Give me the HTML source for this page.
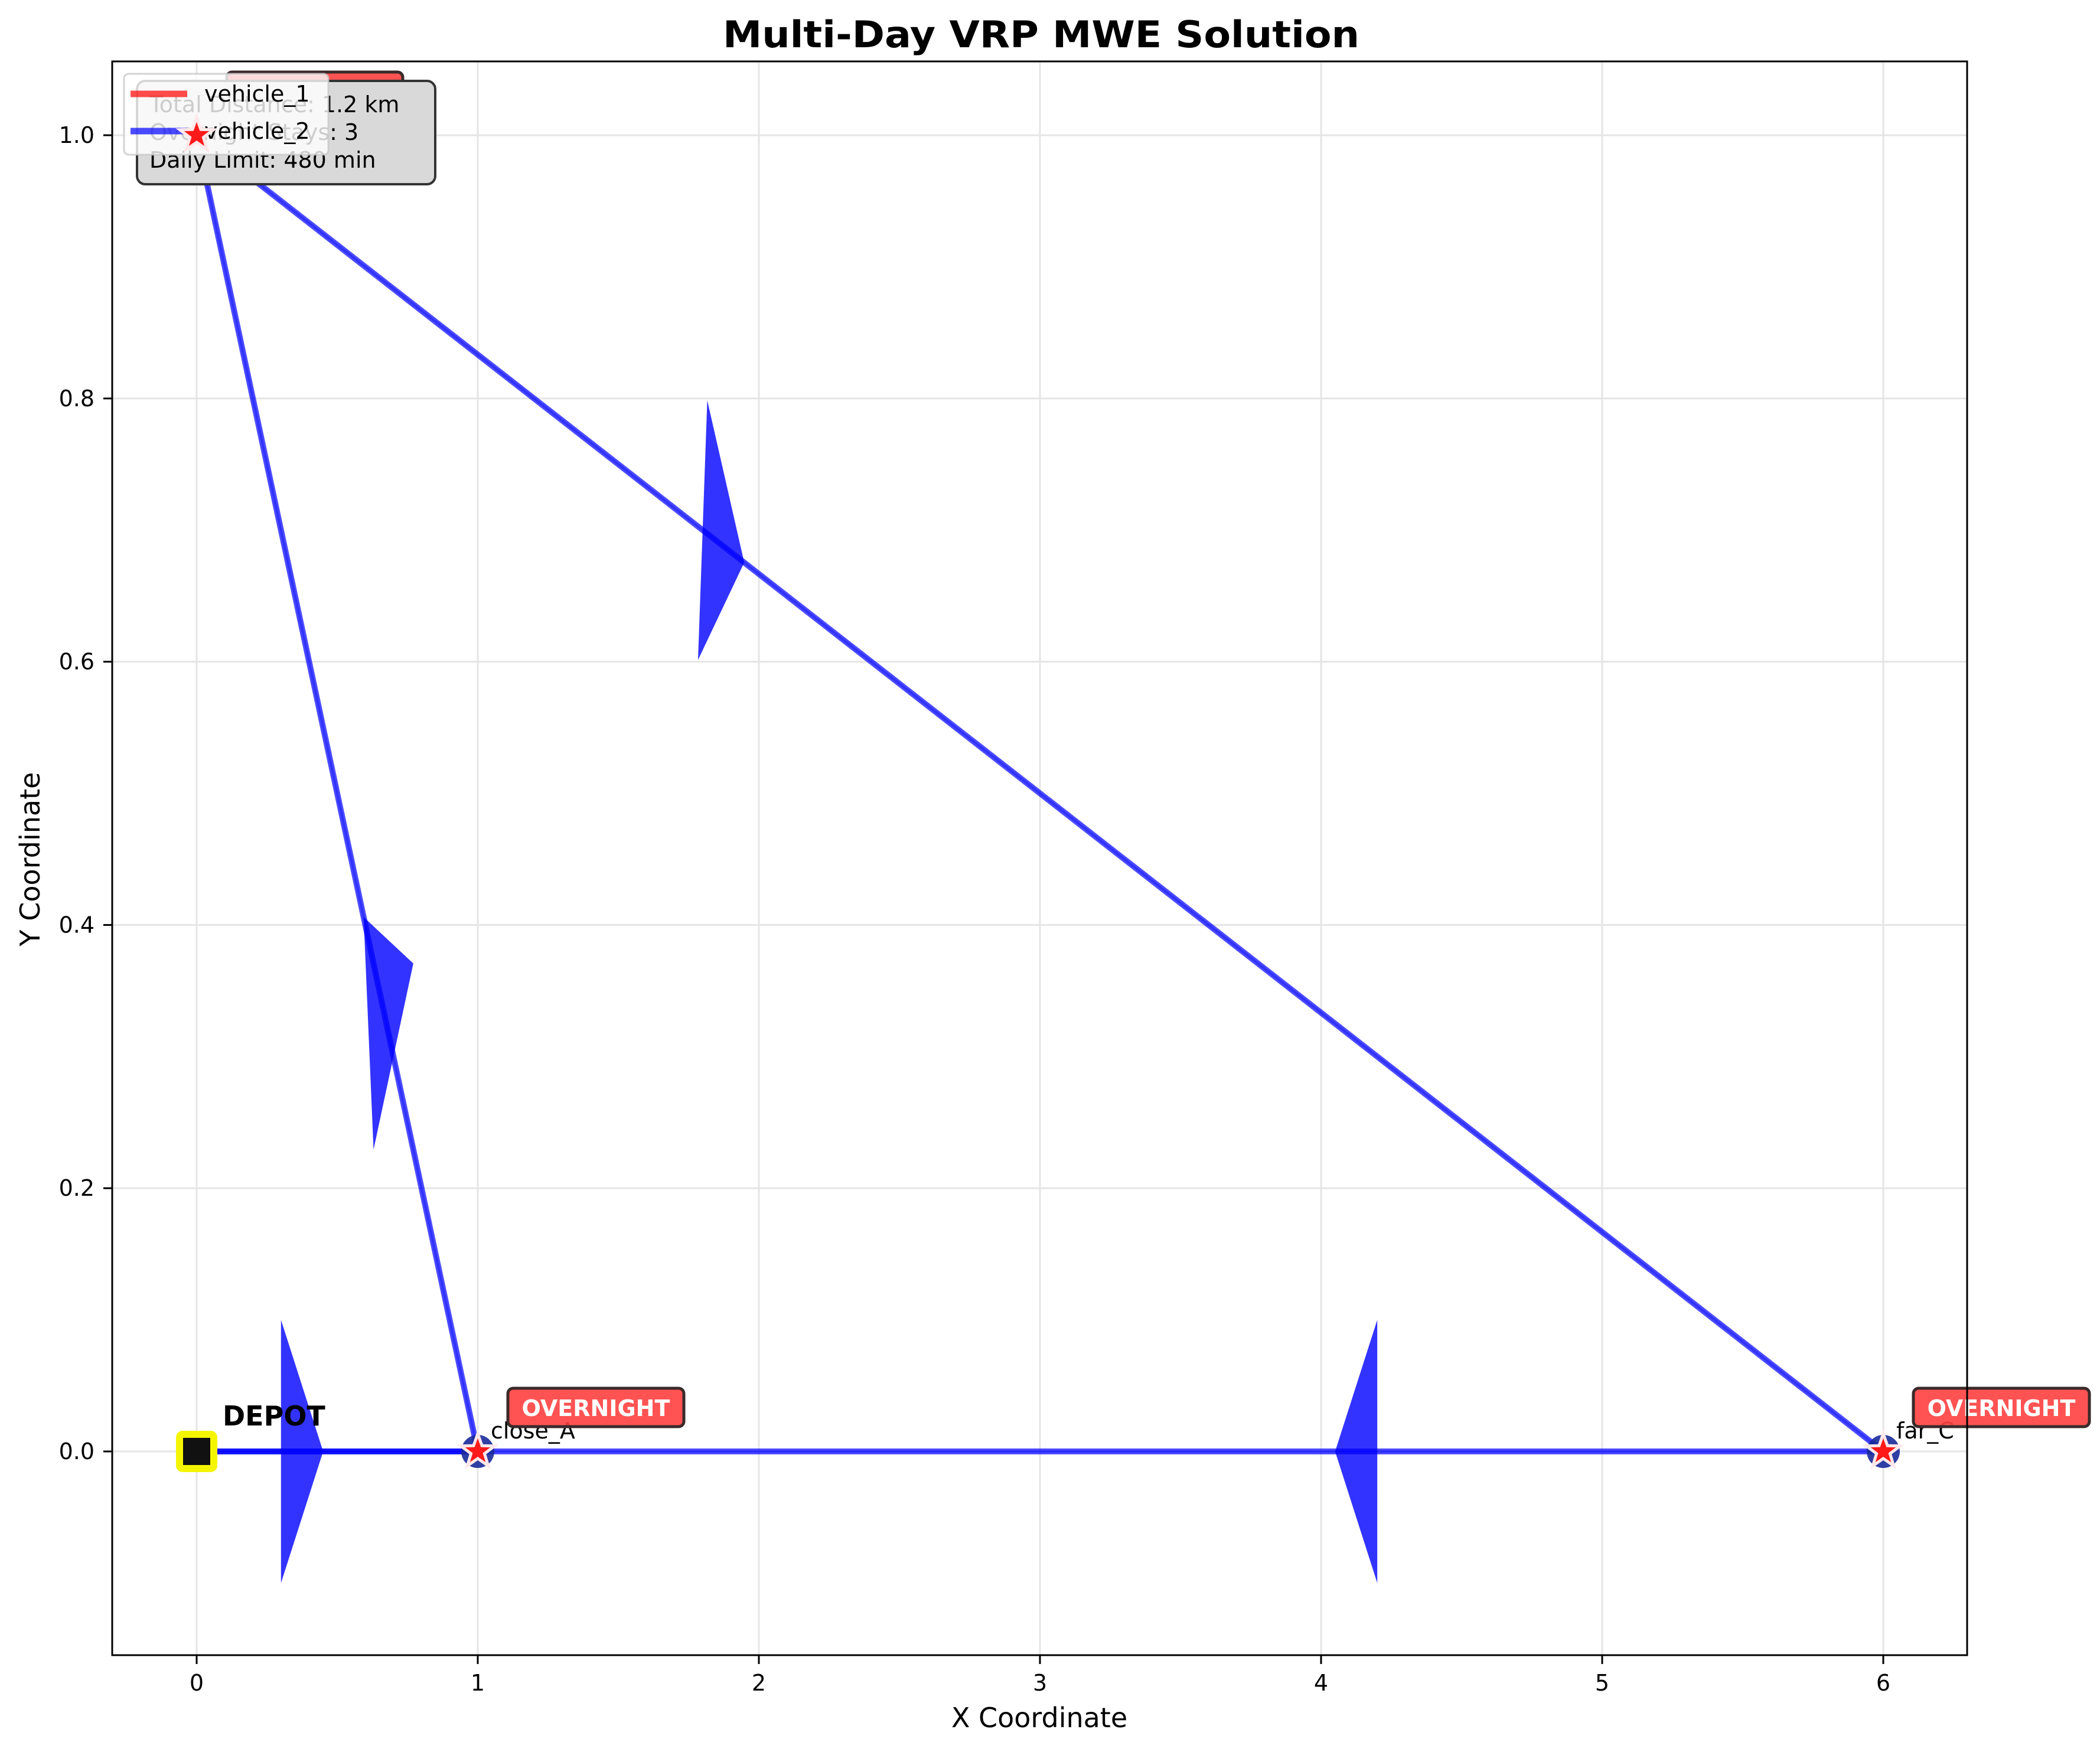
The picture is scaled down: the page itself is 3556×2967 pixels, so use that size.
<!DOCTYPE html>
<html><head><meta charset="utf-8">
<style>
html,body{margin:0;padding:0;background:#fff;}
svg{display:block;font-family:"DejaVu Sans","Liberation Sans",sans-serif;}
</style></head>
<body>
<svg id="chart" width="3556" height="2967" viewBox="0 0 3556 2967" xmlns="http://www.w3.org/2000/svg">
<rect x="0" y="0" width="3556" height="2967" fill="#fff"/>
<text x="1763" y="80" text-anchor="middle" font-size="62" font-weight="bold" textLength="1078" lengthAdjust="spacingAndGlyphs">Multi-Day VRP MWE Solution</text>
<g id="grid"></g>
<g id="routes"></g>
<g id="arrows"></g>
<g id="nodes"></g>
<rect x="190" y="104" width="3141" height="2699" fill="none" stroke="#000" stroke-width="3"/>
<g id="ticks"></g>
<text x="1760" y="2925" text-anchor="middle" font-size="46">X Coordinate</text>
<text x="0" y="0" transform="translate(67,1455) rotate(-90)" text-anchor="middle" font-size="46">Y Coordinate</text>
<g>
<rect x="232" y="137" width="505" height="175" rx="14" fill="#d9d9d9" stroke="#333" stroke-width="4"/>
<text x="253" y="190" font-size="38">Total Distance: 1.2 km</text>
<text x="253" y="237" font-size="38">Overnight Stays: 3</text>
<text x="253" y="284" font-size="38">Daily Limit: 480 min</text>
</g>
<g>
<rect x="210" y="125" width="346" height="137" rx="8" fill="rgba(255,255,255,0.8)" stroke="rgba(200,200,200,0.8)" stroke-width="3"/>
<line x1="221" y1="159" x2="317" y2="159" stroke="red" stroke-opacity="0.7" stroke-width="11"/>
<text x="346" y="172" font-size="38">vehicle_1</text>
<line x1="221" y1="222" x2="317" y2="222" stroke="blue" stroke-opacity="0.7" stroke-width="11"/>
<text x="346" y="235" font-size="38">vehicle_2</text>
</g>
<g id="topmarks"></g>
</svg>
<script>
const xTicks = [0,1,2,3,4,5,6];
const yTicks = [0.0,0.2,0.4,0.6,0.8,1.0];
const yTickLabels = ["0.0","0.2","0.4","0.6","0.8","1.0"];
const nodeNames = ["depot","close_A","close_B","far_C"];
const nodeX = [0,1,0,6];
const nodeY = [0,0,1,0];
const routeOrder = [0,1,2,3,0];

const NS="http://www.w3.org/2000/svg";
const X0=333, XU=476, Y0=2458, YU=2229;
function sx(v){return X0+v*XU;}
function sy(v){return Y0-v*YU;}
function mk(tag,attrs,parent){const e=document.createElementNS(NS,tag);for(const k in attrs)e.setAttribute(k,attrs[k]);parent.appendChild(e);return e;}

const grid=document.getElementById('grid'), ticks=document.getElementById('ticks');
xTicks.forEach((t,i)=>{
  const g=mk('line',{x1:sx(t),x2:sx(t),y1:104,y2:2803,stroke:'#e5e5e5','stroke-width':3},grid);
  
  
  const tk=mk('line',{x1:sx(t),x2:sx(t),y1:2803,y2:2818,stroke:'#000','stroke-width':3},ticks);
  
  
  const tl=mk('text',{x:sx(t),y:2863,'text-anchor':'middle','font-size':38},ticks);
  tl.textContent=String(t);
  
  
});
yTicks.forEach((t,i)=>{
  const g=mk('line',{x1:190,x2:3331,y1:sy(t),y2:sy(t),stroke:'#e5e5e5','stroke-width':3},grid);
  
  
  const tk=mk('line',{x1:175,x2:190,y1:sy(t),y2:sy(t),stroke:'#000','stroke-width':3},ticks);
  
  
  const tl=mk('text',{x:160,y:sy(t)+13,'text-anchor':'end','font-size':38},ticks);
  tl.textContent=yTickLabels[i];
  
  
});

const routes=document.getElementById('routes'), arrows=document.getElementById('arrows');
for(let i=0;i<routeOrder.length-1;i++){
  const a=routeOrder[i], b=routeOrder[i+1];
  const x1=nodeX[a],y1=nodeY[a],x2=nodeX[b],y2=nodeY[b];
  const l=mk('line',{x1:sx(x1),y1:sy(y1),x2:sx(x2),y2:sy(y2),stroke:'blue','stroke-opacity':0.7,'stroke-width':10,'stroke-linecap':'round'},routes);
  
  
  const l2=mk('line',{x1:sx(x1),y1:sy(y1),x2:sx(x2),y2:sy(y2),stroke:'blue','stroke-opacity':0.35,'stroke-width':4},routes);
  
  
  const dx=x2-x1, dy=y2-y1, len=Math.hypot(dx,dy), ux=dx/len, uy=dy/len;
  const bx=x1+0.3*dx, by=y1+0.3*dy, tx=bx+0.15*ux, ty=by+0.15*uy;
  const px=-uy*0.1, py=ux*0.1;
  const pts=[[tx,ty],[bx+px,by+py],[bx-px,by-py]].map(p=>sx(p[0])+','+sy(p[1])).join(' ');
  const ar=mk('polygon',{points:pts,fill:'blue','fill-opacity':0.8},arrows);
  
  
}

function star(cx,cy,R,r){let p=[];for(let k=0;k<10;k++){const ang=-Math.PI/2+k*Math.PI/5;const rad=k%2?r:R;p.push((cx+rad*Math.cos(ang)).toFixed(1)+','+(cy+rad*Math.sin(ang)).toFixed(1));}return p.join(' ');}
const nodes=document.getElementById('nodes'), topmarks=document.getElementById('topmarks');
nodeNames.forEach((n,i)=>{
  const cx=sx(nodeX[i]), cy=sy(nodeY[i]);
  if(i===0){
    const d=mk('rect',{x:cx-29,y:cy-29,width:58,height:58,rx:5,fill:'#111','stroke':'#f5f500','stroke-width':12},nodes);
    
    
    const t=mk('text',{x:cx+44,y:cy-44,'font-size':46,'font-weight':'bold'},nodes);
    t.textContent='DEPOT';
    
    
    return;
  }
  const c=mk('circle',{cx:cx,cy:cy,r:28,fill:'#1a2a9a','fill-opacity':0.9},nodes);
  
  
  const s=mk('polygon',{points:star(cx,cy,30,12),fill:'#ff1a1a',stroke:'#ffe8ea','stroke-width':5,'stroke-linejoin':'miter'},nodes);
  
  
  if(cy<300){
    const s2=mk('polygon',{points:star(cx,cy,30,12),fill:'#ff1a1a',stroke:'#ffe8ea','stroke-width':5},topmarks);
    
    
  }
  const t=mk('text',{x:cx+22,y:cy-22,'font-size':38},nodes);
  t.textContent=n;
  
  
  const b=mk('rect',{x:cx+51,y:cy-107,width:298,height:65,rx:9,fill:'#ff4040','fill-opacity':0.9,stroke:'#3a2a2a','stroke-width':5},nodes);
  
  
  const bt=mk('text',{x:cx+200,y:cy-60,'text-anchor':'middle','font-size':38,'font-weight':'bold',fill:'#fff'},nodes);
  bt.textContent='OVERNIGHT';
  
  
});
</script>
</body></html>
